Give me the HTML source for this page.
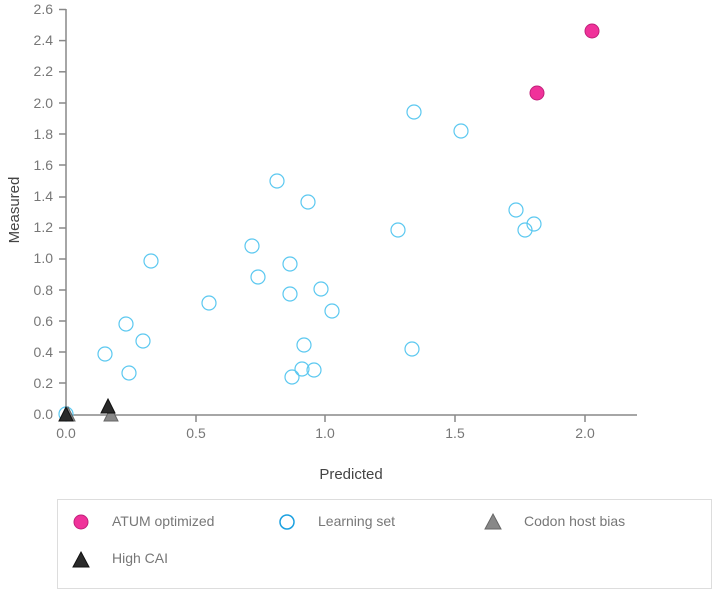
<!DOCTYPE html><html><head><style>body{margin:0;background:#fff}svg{display:block;font-family:"Liberation Sans",sans-serif}</style></head><body>
<svg width="718" height="594" viewBox="0 0 718 594">
<g fill="#777" font-size="14" text-anchor="end">
<text x="53" y="14">2.6</text><text x="53" y="45">2.4</text><text x="53" y="76">2.2</text><text x="53" y="108">2.0</text><text x="53" y="139">1.8</text><text x="53" y="170">1.6</text><text x="53" y="201">1.4</text><text x="53" y="232">1.2</text><text x="53" y="263">1.0</text><text x="53" y="295">0.8</text><text x="53" y="326">0.6</text><text x="53" y="357">0.4</text><text x="53" y="388">0.2</text><text x="53" y="419">0.0</text>
</g>
<g stroke="#888" stroke-width="1.5">
<line x1="66" y1="9" x2="66" y2="415"/><line x1="66" y1="415" x2="637" y2="415"/>
<line x1="59" y1="9.5" x2="66" y2="9.5"/><line x1="59" y1="40.6" x2="66" y2="40.6"/><line x1="59" y1="71.8" x2="66" y2="71.8"/><line x1="59" y1="103" x2="66" y2="103"/><line x1="59" y1="134" x2="66" y2="134"/><line x1="59" y1="165" x2="66" y2="165"/><line x1="59" y1="197" x2="66" y2="197"/><line x1="59" y1="228" x2="66" y2="228"/><line x1="59" y1="259" x2="66" y2="259"/><line x1="59" y1="290" x2="66" y2="290"/><line x1="59" y1="321" x2="66" y2="321"/><line x1="59" y1="352" x2="66" y2="352"/><line x1="59" y1="383" x2="66" y2="383"/>
<line x1="196" y1="415" x2="196" y2="422"/><line x1="325" y1="415" x2="325" y2="422"/><line x1="455" y1="415" x2="455" y2="422"/><line x1="585" y1="415" x2="585" y2="422"/>
</g>
<g fill="#777" font-size="14" text-anchor="middle">
<text x="66" y="438">0.0</text><text x="196" y="438">0.5</text><text x="325" y="438">1.0</text><text x="455" y="438">1.5</text><text x="585" y="438">2.0</text>
</g>
<text x="351" y="479" font-size="15" fill="#444" text-anchor="middle">Predicted</text>
<text transform="translate(19,210) rotate(-90)" font-size="15" fill="#444" text-anchor="middle">Measured</text>
<g fill="none" stroke="#5bc8f0" stroke-width="1.2">
<circle cx="414" cy="112" r="7"/><circle cx="461" cy="131" r="7"/><circle cx="277" cy="181" r="7"/><circle cx="308" cy="202" r="7"/><circle cx="516" cy="210" r="7"/><circle cx="534" cy="224" r="7"/><circle cx="525" cy="230" r="7"/><circle cx="398" cy="230" r="7"/><circle cx="252" cy="246" r="7"/><circle cx="151" cy="261" r="7"/><circle cx="290" cy="264" r="7"/><circle cx="258" cy="277" r="7"/><circle cx="290" cy="294" r="7"/><circle cx="321" cy="289" r="7"/><circle cx="209" cy="303" r="7"/><circle cx="332" cy="311" r="7"/><circle cx="126" cy="324" r="7"/><circle cx="143" cy="341" r="7"/><circle cx="304" cy="345" r="7"/><circle cx="105" cy="354" r="7"/><circle cx="412" cy="349" r="7"/><circle cx="129" cy="373" r="7"/><circle cx="302" cy="369" r="7"/><circle cx="314" cy="370" r="7"/><circle cx="292" cy="377" r="7"/><circle cx="66" cy="414" r="7"/>
</g>
<g fill="#f0329a" stroke="#c0207a"><circle cx="592" cy="31" r="7"/><circle cx="537" cy="93" r="7"/></g>
<g fill="#888" stroke="#666"><polygon points="68,407 75,421 61,421"/><polygon points="111,407 118,421 104,421"/></g>
<g fill="#2a2a2a" stroke="#111"><polygon points="66,407 73,421 59,421"/><polygon points="108,399 115,413 101,413"/></g>
<rect x="57.5" y="499.5" width="654" height="89" fill="none" stroke="#ddd"/>
<circle cx="81" cy="522" r="7" fill="#f0329a" stroke="#c0207a"/>
<text x="112" y="526" font-size="14" fill="#777">ATUM optimized</text>
<circle cx="287" cy="522" r="7" fill="none" stroke="#1aa0e0" stroke-width="1.5"/>
<text x="318" y="526" font-size="14" fill="#777">Learning set</text>
<polygon points="493,514 501,529 485,529" fill="#888" stroke="#666"/>
<text x="524" y="526" font-size="14" fill="#777">Codon host bias</text>
<polygon points="81,552 89,567 73,567" fill="#2a2a2a" stroke="#111"/>
<text x="112" y="563" font-size="14" fill="#777">High CAI</text>
</svg>
</body></html>
